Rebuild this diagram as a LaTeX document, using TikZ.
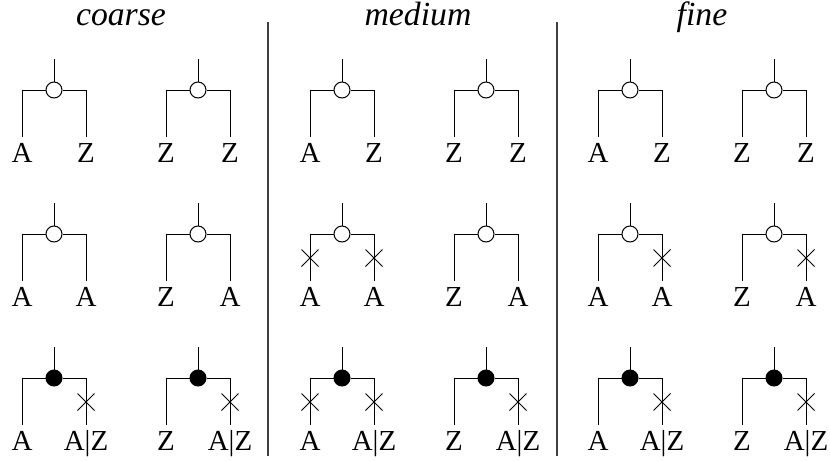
\documentclass[tikz,border=0pt]{standalone}
\usepackage{fontspec}
\setmainfont{Liberation Serif}
\usetikzlibrary{shapes.misc}

\tikzset{
  junc/.style={circle,draw,inner sep=0pt,minimum size=16pt},
  cut/.style={cross out,draw,inner sep=0pt,minimum size=16pt},
  leaf/.style={anchor=base,inner sep=0pt,font=\fontsize{29}{29}\selectfont},
  title/.style={anchor=base,inner sep=0pt,font=\fontsize{33.7}{34}\selectfont\itshape},
  divider/.style={line width=1.2pt,black!75}
}

% #1 name, #2 x, #3 y, #4 fill, #5 left leaf, #6 right leaf, #7/#8 cut left/right (1 or 0)
\newcommand{\gate}[8]{%
  \coordinate (#1t) at ({#2},{#3-31});
  \node[junc,fill=#4] (#1c) at ({#2},{#3}) {};
  \coordinate (#1l) at ({#2-32},{#3});
  \coordinate (#1r) at ({#2+32},{#3});
  \coordinate (#1lf) at ({#2-32},{#3+47});
  \coordinate (#1rf) at ({#2+32},{#3+47});
  \node[leaf] (#1a) at ({#2-32},{#3+72}) {#5};
  \node[leaf] (#1b) at ({#2+32},{#3+72}) {#6};
  \draw (#1t) -- (#1c);
  \draw (#1c) -- (#1l) -- (#1lf);
  \draw (#1c) -- (#1r) -- (#1rf);
  \ifnum#7=1 \node[cut] (#1xl) at ({#2-32},{#3+24}) {};\fi
  \ifnum#8=1 \node[cut] (#1xr) at ({#2+32},{#3+24}) {};\fi
}

\begin{document}
\begin{tikzpicture}[x=1pt,y=-1pt,line width=1pt]
\useasboundingbox (0,0) rectangle (830,461);

\node[title] (coarse) at (121,25) {coarse};
\node[title] (medium) at (418,25) {medium};
\node[title] (fine) at (702,25) {fine};

\coordinate (d1top) at (268,22);
\coordinate (d1bot) at (268,456);
\coordinate (d2top) at (557,22);
\coordinate (d2bot) at (557,456);
\draw[divider] (d1top) -- (d1bot);
\draw[divider] (d2top) -- (d2bot);

% coarse
\gate{ca1}{54}{90}{white}{A}{Z}{0}{0}
\gate{ca2}{198}{90}{white}{Z}{Z}{0}{0}
\gate{cb1}{54}{234}{white}{A}{A}{0}{0}
\gate{cb2}{198}{234}{white}{Z}{A}{0}{0}
\gate{cc1}{54}{378}{black}{A}{A|Z}{0}{1}
\gate{cc2}{198}{378}{black}{Z}{A|Z}{0}{1}

% medium
\gate{ma1}{342}{90}{white}{A}{Z}{0}{0}
\gate{ma2}{486}{90}{white}{Z}{Z}{0}{0}
\gate{mb1}{342}{234}{white}{A}{A}{1}{1}
\gate{mb2}{486}{234}{white}{Z}{A}{0}{0}
\gate{mc1}{342}{378}{black}{A}{A|Z}{1}{1}
\gate{mc2}{486}{378}{black}{Z}{A|Z}{0}{1}

% fine
\gate{fa1}{630}{90}{white}{A}{Z}{0}{0}
\gate{fa2}{774}{90}{white}{Z}{Z}{0}{0}
\gate{fb1}{630}{234}{white}{A}{A}{0}{1}
\gate{fb2}{774}{234}{white}{Z}{A}{0}{1}
\gate{fc1}{630}{378}{black}{A}{A|Z}{0}{1}
\gate{fc2}{774}{378}{black}{Z}{A|Z}{0}{1}
\end{tikzpicture}
\end{document}
